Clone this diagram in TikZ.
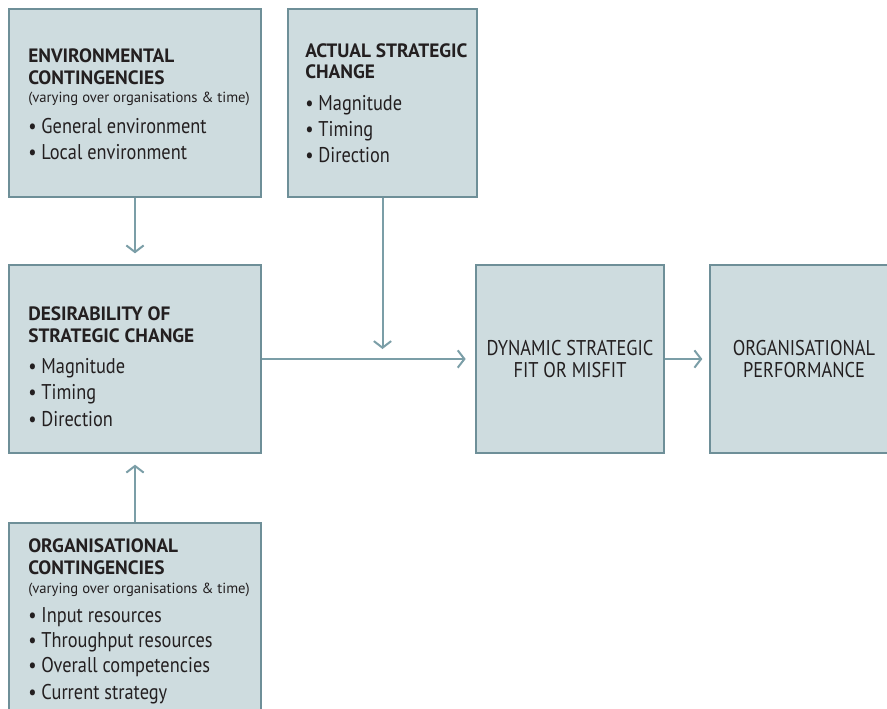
\documentclass[tikz,border=0pt]{standalone}
\usepackage{fontspec}
\setmainfont{PT Sans}
\newfontfamily\narrowfont{PT Sans}[FakeStretch=0.86]
\usetikzlibrary{arrows.meta}
\definecolor{boxfill}{HTML}{CEDCDF}
\definecolor{boxline}{HTML}{6E8F98}
\definecolor{arrcol}{HTML}{7B9EA7}
\definecolor{txt}{HTML}{231F20}
\tikzset{
  box/.style={draw=boxline, fill=boxfill, line width=1.5pt, inner sep=0pt},
  arr/.style={draw=arrcol, line width=1.5pt, -{Straight Barb[length=5pt,width=13pt,line width=1.5pt]}},
  ttl/.style={anchor=base west, inner sep=0pt, text=txt, font=\bfseries\fontsize{14.5}{15}\selectfont},
  sub/.style={anchor=base west, inner sep=0pt, text=txt, font=\fontsize{11}{12}\selectfont},
  itm/.style={anchor=base west, inner sep=0pt, text=txt, font=\narrowfont\fontsize{16}{18}\selectfont},
  ctr/.style={anchor=base, inner sep=0pt, text=txt, font=\narrowfont\fontsize{16}{16}\selectfont},
}
\begin{document}
\begin{tikzpicture}[x=0.75pt,y=-0.75pt]
\useasboundingbox (0,0) rectangle (887,708);
% boxes
\node[box, minimum width=189pt, minimum height=141pt] (env) at (135,103) {};
\node[box, minimum width=141.75pt, minimum height=141pt] (act) at (382.5,103) {};
\node[box, minimum width=189pt, minimum height=141pt] (des) at (135,359) {};
\node[box, minimum width=141pt, minimum height=141pt] (dyn) at (570,359) {};
\node[box, minimum width=141pt, minimum height=141pt] (perf) at (804,359) {};
\node[box, minimum width=189pt, minimum height=150pt] (org) at (135,623) {};
% environment text
\node[ttl] (envt1) at (28,62) {ENVIRONMENTAL};
\node[ttl] (envt2) at (28,84) {CONTINGENCIES};
\node[sub] (envs) at (28,102) {(varying over organisations \& time)};
\node[itm] (envi1) at (28,133) {• General environment};
\node[itm] (envi2) at (28,159) {• Local environment};
% actual text
\node[ttl] (actt1) at (305,57) {ACTUAL STRATEGIC};
\node[ttl] (actt2) at (305,78) {CHANGE};
\node[itm] (acti1) at (305,110) {• Magnitude};
\node[itm] (acti2) at (305,136) {• Timing};
\node[itm] (acti3) at (305,162) {• Direction};
% desirability text
\node[ttl] (dest1) at (28,320) {DESIRABILITY OF};
\node[ttl] (dest2) at (28,342) {STRATEGIC CHANGE};
\node[itm] (desi1) at (28,373) {• Magnitude};
\node[itm] (desi2) at (28,399) {• Timing};
\node[itm] (desi3) at (28,426) {• Direction};
% dynamic / performance
\node[ctr] (dynt1) at (570,355) {DYNAMIC STRATEGIC};
\node[ctr] (dynt2) at (570,377) {FIT OR MISFIT};
\node[ctr] (perft1) at (804,355) {ORGANISATIONAL};
\node[ctr] (perft2) at (804,377) {PERFORMANCE};
% organisational text
\node[ttl] (orgt1) at (28,552) {ORGANISATIONAL};
\node[ttl] (orgt2) at (28,574) {CONTINGENCIES};
\node[sub] (orgs) at (28,593) {(varying over organisations \& time)};
\node[itm] (orgi1) at (28,622) {• Input resources};
\node[itm] (orgi2) at (28,647) {• Throughput resources};
\node[itm] (orgi3) at (28,672) {• Overall competencies};
\node[itm] (orgi4) at (28,699) {• Current strategy};
% connectors
\coordinate (join) at (act.south |- des.east);
\draw[arr, shorten >=8pt] (env.south) -- (des.north);
\draw[arr, shorten >=8pt] (org.north) -- (des.south);
\draw[arr, shorten >=7.5pt] (act.south) -- (join);
\draw[arr, shorten >=7pt] (des.east) -- (dyn.west);
\draw[arr, shorten >=5pt] (dyn.east) -- (perf.west);
\end{tikzpicture}
\end{document}
